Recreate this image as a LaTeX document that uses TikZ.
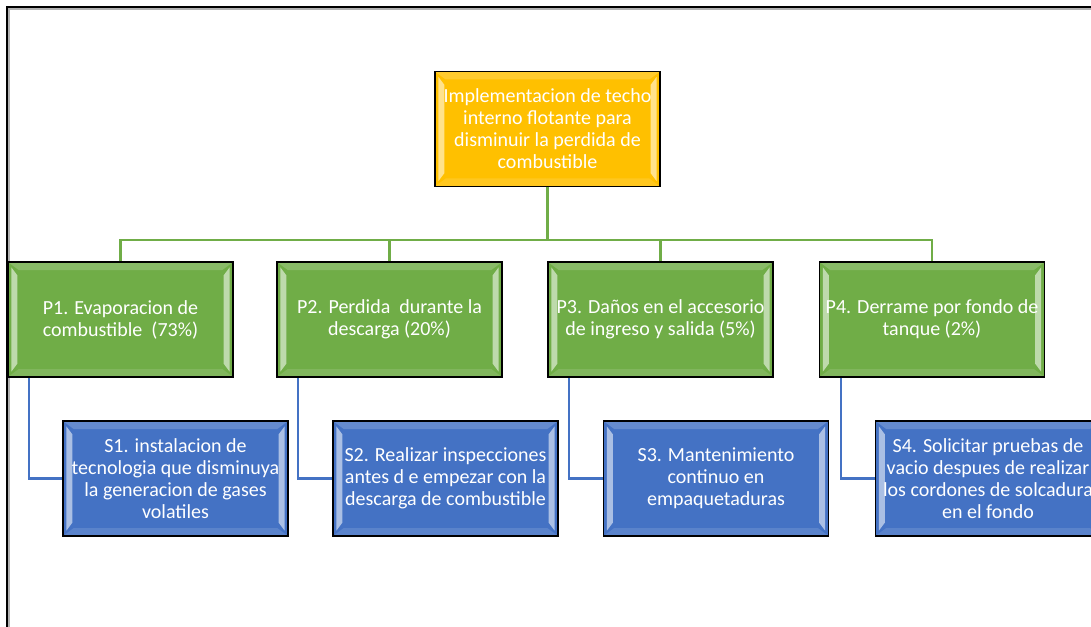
\documentclass[tikz,border=0pt]{standalone}
\usepackage{fontspec}
\setmainfont{Carlito}
\usetikzlibrary{calc}

\definecolor{boxorange}{HTML}{FFC000}
\definecolor{boxgreen}{HTML}{70AD47}
\definecolor{boxblue}{HTML}{4472C4}
\definecolor{linkgreen}{HTML}{70AD47}
\definecolor{linkblue}{HTML}{4472C4}

\tikzset{
	bevelbox/.style={draw=black, line width=1.3pt, fill=#1, text=white,
		minimum width=168.75pt, minimum height=86.25pt, inner sep=0pt,
		align=center, font=\fontsize{15}{16.5}\selectfont,
		path picture={
			\coordinate (nw) at (path picture bounding box.north west);
			\coordinate (sw) at (path picture bounding box.south west);
			\coordinate (ne) at (path picture bounding box.north east);
			\coordinate (se) at (path picture bounding box.south east);
			% top and bottom edge
			\fill[white, opacity=.18] (nw) -- (ne) -- ($(ne)+(-8pt,-6pt)$) -- ($(nw)+(8pt,-6pt)$) -- cycle;
			\fill[white, opacity=.12] (sw) -- (se) -- ($(se)+(-8pt,6pt)$) -- ($(sw)+(8pt,6pt)$) -- cycle;
			% left and right bevel
			\fill[white, opacity=.55] ($(nw)+(2.5pt,-4pt)$) -- ($(nw)+(7pt,-10pt)$) -- ($(sw)+(7pt,10pt)$) -- ($(sw)+(2.5pt,4pt)$) -- cycle;
			\fill[white, opacity=.55] ($(ne)+(-2.5pt,-4pt)$) -- ($(ne)+(-7pt,-10pt)$) -- ($(se)+(-7pt,10pt)$) -- ($(se)+(-2.5pt,4pt)$) -- cycle;
		}},
	greenlink/.style={draw=linkgreen, line width=1.6pt},
	bluelink/.style={draw=linkblue, line width=1.6pt}
}

\begin{document}
\begin{tikzpicture}[x=0.75pt, y=-0.75pt]
	\def\py{319.5}		% row of problems
	\def\sy{478.5}		% row of solutions
	\def\busy{240}		% green bus line
	\def\off{22}		% offset of blue link from box edge

	\useasboundingbox (0,0) rectangle (1091,627);

	% Frame
	\draw[gray!60, line width=1.2pt] (9,640) -- (9,9) -- (1100,9);
	\draw[black, line width=1.3pt] (7,640) -- (7,7) -- (1100,7);

	% Top goal
	\node[bevelbox=boxorange] (top) at (547.5,129) {Implementacion de techo\\interno flotante para\\disminuir la perdida de\\combustible};

	% Problems
	\node[bevelbox=boxgreen] (p1) at (120.5,\py) {P1. Evaporacion de\\combustible~~(73\%)};
	\node[bevelbox=boxgreen] (p2) at (389.5,\py) {P2. Perdida~~durante la\\descarga (20\%)};
	\node[bevelbox=boxgreen] (p3) at (660.5,\py) {P3. Daños en el accesorio\\de ingreso y salida (5\%)};
	\node[bevelbox=boxgreen] (p4) at (932,\py) {P4. Derrame por fondo de\\tanque (2\%)};

	% Solutions
	\node[bevelbox=boxblue] (s1) at (175.5,\sy) {S1. instalacion de\\tecnologia que disminuya\\la generacion de gases\\volatiles};
	\node[bevelbox=boxblue] (s2) at (445.5,\sy) {S2. Realizar inspecciones\\antes d e empezar con la\\descarga de combustible};
	\node[bevelbox=boxblue] (s3) at (716,\sy) {S3. Mantenimiento\\continuo en\\empaquetaduras};
	\node[bevelbox=boxblue] (s4) at (988,\sy) {S4. Solicitar pruebas de\\vacio despues de realizar\\los cordones de solcadura\\en el fondo};

	% Green links
	\coordinate (bus) at (547.5,\busy);
	\draw[greenlink] (top.south) -- (bus);
	\foreach \i in {1,...,4}
		\draw[greenlink] (p\i.north) |- (bus);

	% Blue links
	\foreach \i in {1,...,4}
		\draw[bluelink] ($(p\i.south west)+(\off,0)$) |- (s\i.west);
\end{tikzpicture}
\end{document}
